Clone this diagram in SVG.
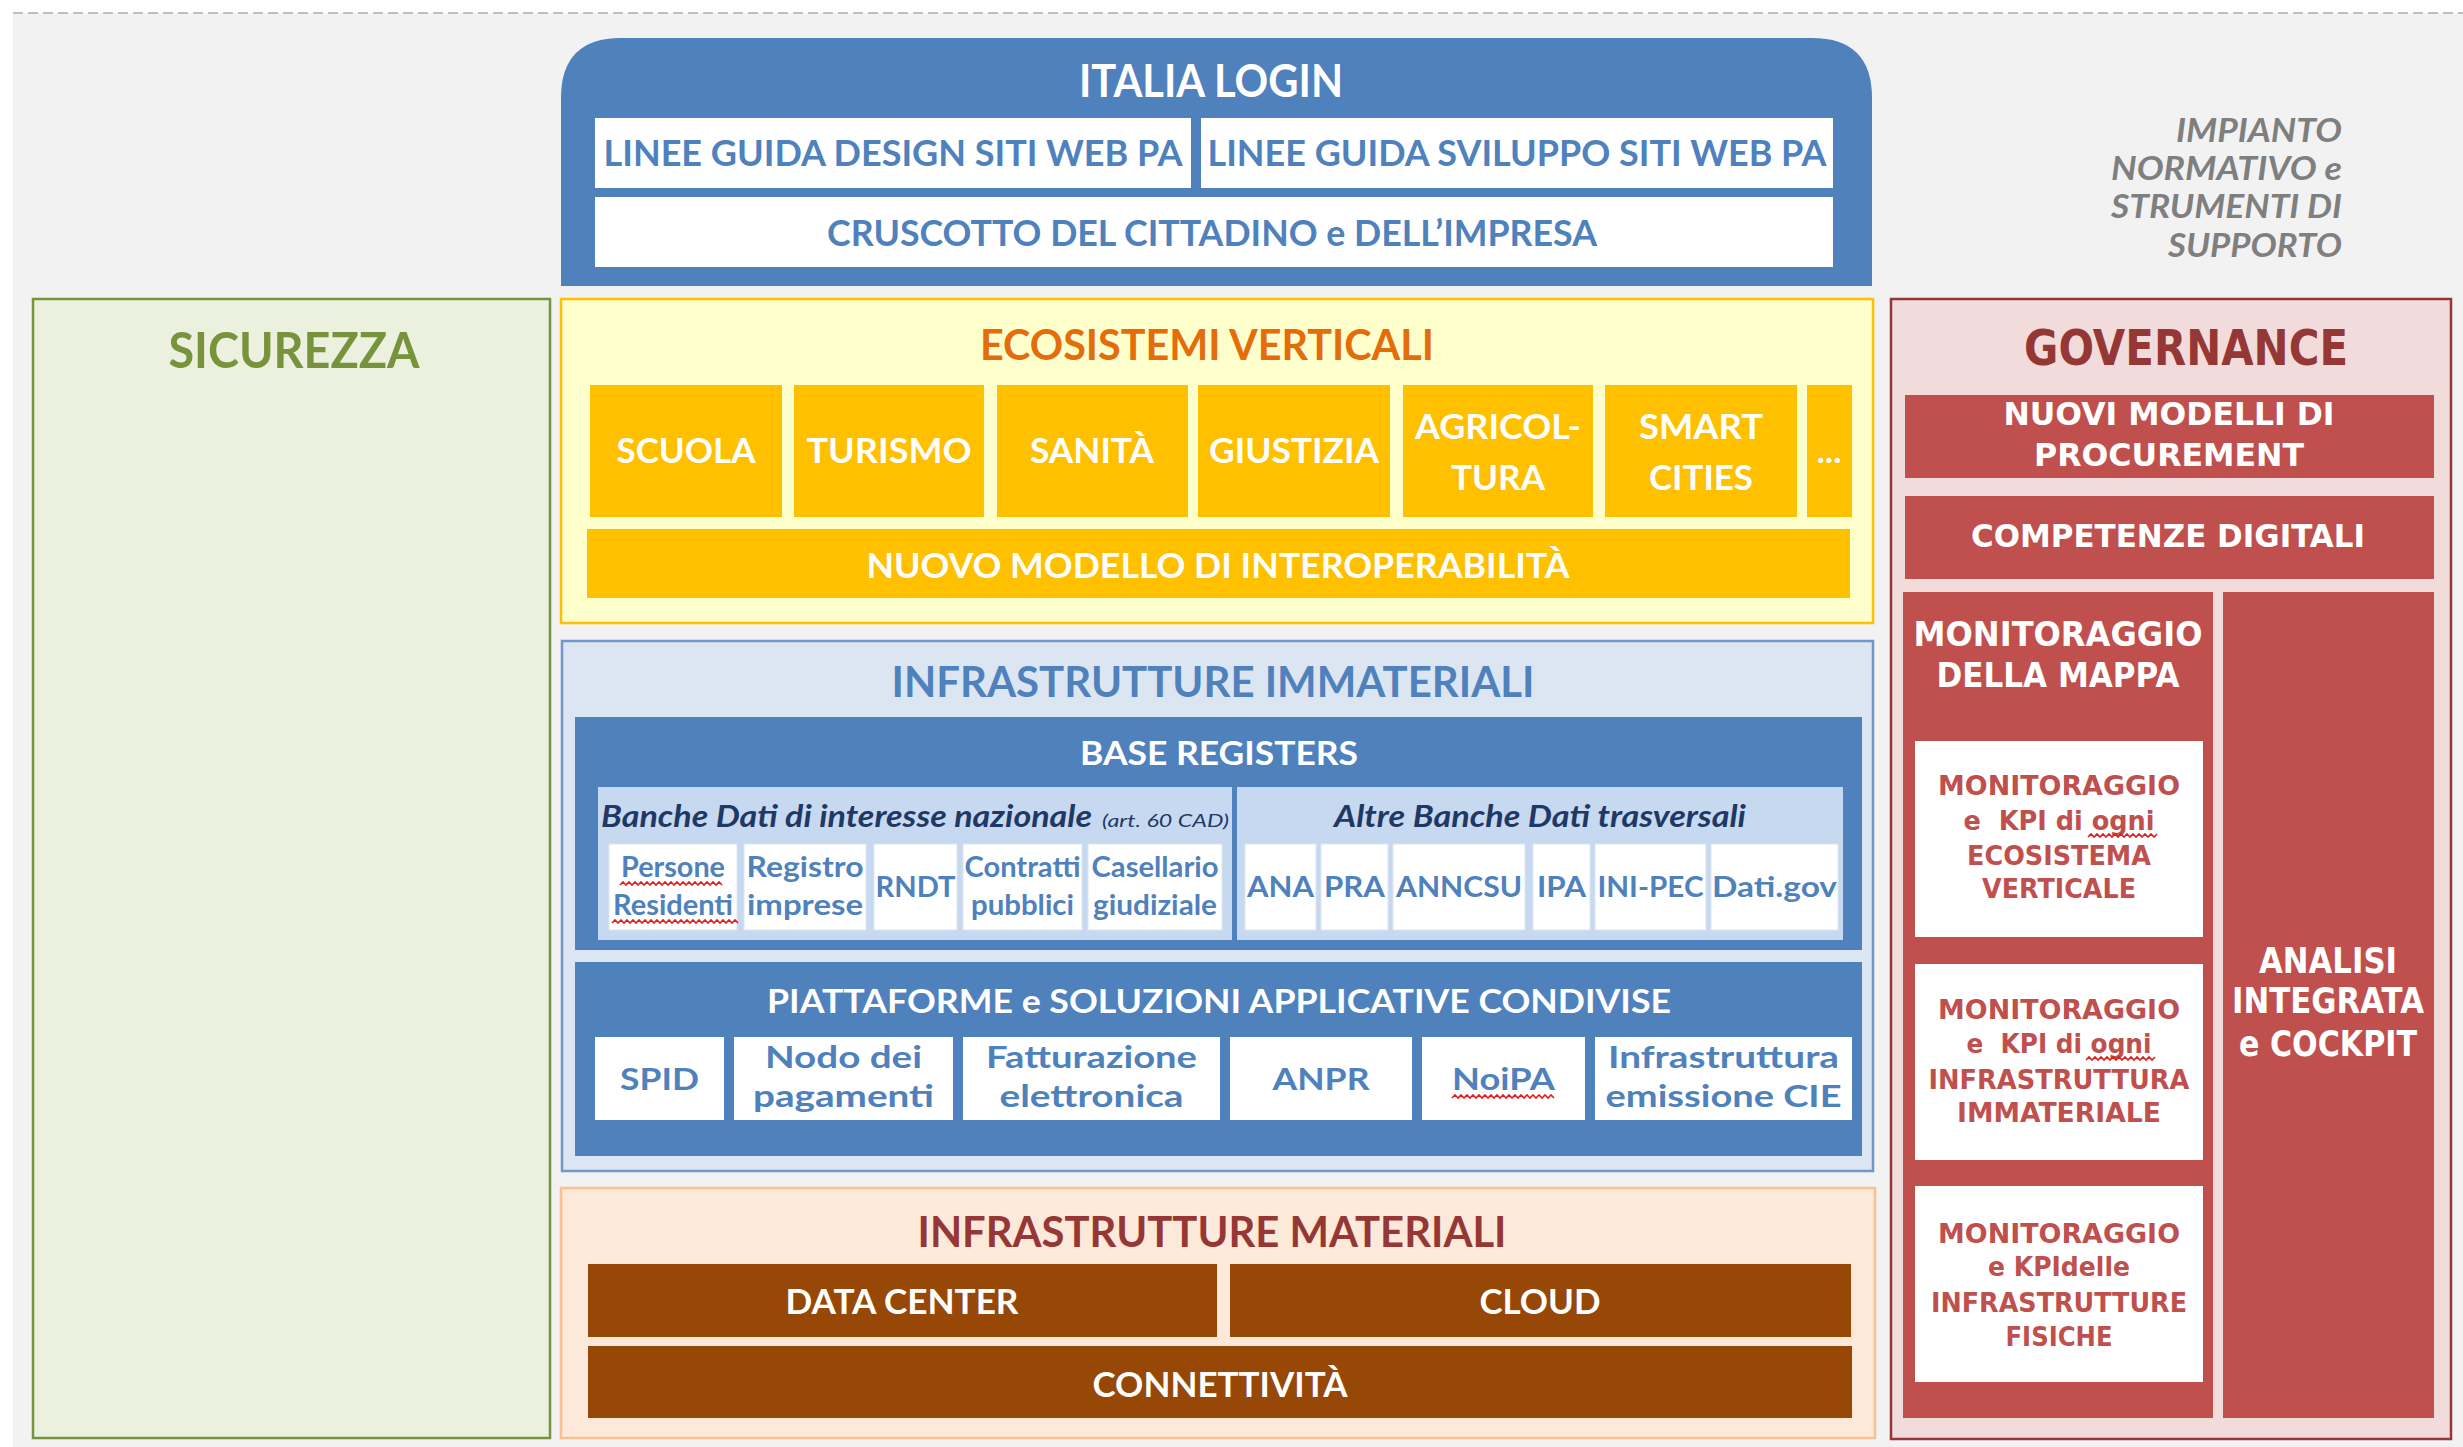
<svg xmlns="http://www.w3.org/2000/svg" width="2463" height="1447" viewBox="0 0 2463 1447">
<style>
text{font-family:Lato,"Open Sans","Liberation Sans",sans-serif;font-weight:bold;text-anchor:middle}
.w{fill:#ffffff}
.blue{fill:#4f81bd}
.gov{font-family:"DejaVu Sans","Liberation Sans",sans-serif}
.red{fill:#c0504d}
.dk{fill:#1f3864;font-style:italic}
.wbox{fill:#ffffff}
.eco{fill:#ffc000}
.brown{fill:#974706}
.redbox{fill:#c0504d}
.cell{fill:#ffffff;stroke:#dbe5f1;stroke-width:1}
.wave{fill:none;stroke:#e02020;stroke-width:1.6}
</style>
<rect x="13" y="13" width="2450" height="1434" fill="#f2f2f2"/>
<line x1="13" y1="13" x2="2463" y2="13" stroke="#bfbfbf" stroke-width="2" stroke-dasharray="10 5"/>

<g id="impianto">
<text x="2342" y="142" font-size="32" fill="#7f7f7f" font-style="italic" style="text-anchor:end" textLength="166" lengthAdjust="spacingAndGlyphs">IMPIANTO</text>
<text x="2342" y="180" font-size="32" fill="#7f7f7f" font-style="italic" style="text-anchor:end" textLength="231" lengthAdjust="spacingAndGlyphs">NORMATIVO e</text>
<text x="2342" y="218" font-size="32" fill="#7f7f7f" font-style="italic" style="text-anchor:end" textLength="231" lengthAdjust="spacingAndGlyphs">STRUMENTI DI</text>
<text x="2342" y="257" font-size="32" fill="#7f7f7f" font-style="italic" style="text-anchor:end" textLength="174" lengthAdjust="spacingAndGlyphs">SUPPORTO</text>
</g>

<g id="italia-login">
<path d="M561,286 V98 Q561,38 621,38 H1812 Q1872,38 1872,98 V286 Z" fill="#4f81bd"/>
<text class="w" x="1211" y="97" font-size="45" textLength="264" lengthAdjust="spacingAndGlyphs">ITALIA LOGIN</text>
<rect class="wbox" x="595" y="118" width="596" height="70"/>
<text class="blue" x="893" y="166" font-size="36" textLength="579" lengthAdjust="spacingAndGlyphs">LINEE GUIDA DESIGN SITI WEB PA</text>
<rect class="wbox" x="1201" y="118" width="632" height="70"/>
<text class="blue" x="1517" y="166" font-size="36" textLength="619" lengthAdjust="spacingAndGlyphs">LINEE GUIDA SVILUPPO SITI WEB PA</text>
<rect class="wbox" x="595" y="197" width="1238" height="70"/>
<text class="blue" x="1212" y="246" font-size="36" textLength="770" lengthAdjust="spacingAndGlyphs">CRUSCOTTO DEL CITTADINO e DELL’IMPRESA</text>
</g>

<g id="sicurezza">
<rect x="33" y="299" width="517" height="1139" fill="#ebf1de" stroke="#77933c" stroke-width="2.5"/>
<text x="294" y="368" font-size="50" fill="#77933c" textLength="251" lengthAdjust="spacingAndGlyphs">SICUREZZA</text>
</g>

<g id="ecosistemi">
<rect x="561" y="299" width="1312" height="324" fill="#ffffcc" stroke="#ffc000" stroke-width="2.5"/>
<text x="1207" y="360" font-size="42" fill="#e46c0a" textLength="454" lengthAdjust="spacingAndGlyphs">ECOSISTEMI VERTICALI</text>
<rect class="eco" x="590" y="385" width="192" height="132"/>
<text class="w" x="686" y="463" font-size="35" textLength="139" lengthAdjust="spacingAndGlyphs">SCUOLA</text>
<rect class="eco" x="794" y="385" width="190" height="132"/>
<text class="w" x="889" y="463" font-size="35" textLength="165" lengthAdjust="spacingAndGlyphs">TURISMO</text>
<rect class="eco" x="997" y="385" width="191" height="132"/>
<text class="w" x="1092" y="463" font-size="35" textLength="124" lengthAdjust="spacingAndGlyphs">SANITÀ</text>
<rect class="eco" x="1198" y="385" width="192" height="132"/>
<text class="w" x="1294" y="463" font-size="35" textLength="170" lengthAdjust="spacingAndGlyphs">GIUSTIZIA</text>
<rect class="eco" x="1403" y="385" width="190" height="132"/>
<text class="w" x="1498" y="439" font-size="35" textLength="166" lengthAdjust="spacingAndGlyphs">AGRICOL-</text>
<text class="w" x="1498" y="490" font-size="35" textLength="94" lengthAdjust="spacingAndGlyphs">TURA</text>
<rect class="eco" x="1605" y="385" width="192" height="132"/>
<text class="w" x="1701" y="439" font-size="35" textLength="124" lengthAdjust="spacingAndGlyphs">SMART</text>
<text class="w" x="1701" y="490" font-size="35" textLength="104" lengthAdjust="spacingAndGlyphs">CITIES</text>
<rect class="eco" x="1807" y="385" width="45" height="132"/>
<text class="w" x="1829" y="463" font-size="35">...</text>
<rect class="eco" x="587" y="529" width="1263" height="69"/>
<text class="w" x="1218" y="578" font-size="35" textLength="703" lengthAdjust="spacingAndGlyphs">NUOVO MODELLO DI INTEROPERABILITÀ</text>
</g>

<g id="infrastrutture-immateriali">
<rect x="562" y="641" width="1311" height="530" fill="#dce6f2" stroke="#6f97cc" stroke-width="2.5"/>
<text class="blue" x="1213" y="697" font-size="42" textLength="643" lengthAdjust="spacingAndGlyphs">INFRASTRUTTURE IMMATERIALI</text>
</g>

<g id="base-registers">
<rect x="575" y="717" width="1287" height="233" fill="#4f81bd"/>
<text class="w" x="1219" y="765" font-size="32" textLength="278" lengthAdjust="spacingAndGlyphs">BASE REGISTERS</text>
<rect x="598" y="787" width="634" height="153" fill="#c6d9f1"/>
<rect x="1237" y="787" width="606" height="153" fill="#c6d9f1"/>
<text class="dk" x="601" y="827" font-size="30" style="text-anchor:start" textLength="491" lengthAdjust="spacingAndGlyphs">Banche Dati di interesse nazionale</text>
<text class="dk" x="1102" y="827" font-size="17" style="text-anchor:start;font-weight:normal" textLength="127" lengthAdjust="spacingAndGlyphs">(art. 60 CAD)</text>
<text class="dk" x="1540" y="827" font-size="30" textLength="412" lengthAdjust="spacingAndGlyphs">Altre Banche Dati trasversali</text>
</g>

<g id="banche-nazionali">
<rect class="cell" x="609" y="844" width="128" height="86"/>
<text class="blue" x="673" y="877" font-size="28" textLength="104" lengthAdjust="spacingAndGlyphs">Persone</text>
<text class="blue" x="673" y="915" font-size="28" textLength="120" lengthAdjust="spacingAndGlyphs">Residenti</text>
<rect class="cell" x="744" y="844" width="122" height="86"/>
<text class="blue" x="805" y="877" font-size="28" textLength="117" lengthAdjust="spacingAndGlyphs">Registro</text>
<text class="blue" x="805" y="915" font-size="28" textLength="116" lengthAdjust="spacingAndGlyphs">imprese</text>
<rect class="cell" x="874" y="844" width="83" height="86"/>
<text class="blue" x="915.5" y="897" font-size="28" textLength="80" lengthAdjust="spacingAndGlyphs">RNDT</text>
<rect class="cell" x="963" y="844" width="119" height="86"/>
<text class="blue" x="1022.5" y="877" font-size="28" textLength="116" lengthAdjust="spacingAndGlyphs">Contratti</text>
<text class="blue" x="1022.5" y="915" font-size="28" textLength="103" lengthAdjust="spacingAndGlyphs">pubblici</text>
<rect class="cell" x="1088" y="844" width="134" height="86"/>
<text class="blue" x="1155" y="877" font-size="28" textLength="127" lengthAdjust="spacingAndGlyphs">Casellario</text>
<text class="blue" x="1155" y="915" font-size="28" textLength="124" lengthAdjust="spacingAndGlyphs">giudiziale</text>
</g>

<g id="banche-trasversali">
<rect class="cell" x="1245" y="844" width="71" height="86"/>
<text class="blue" x="1280.5" y="897" font-size="28" textLength="67" lengthAdjust="spacingAndGlyphs">ANA</text>
<rect class="cell" x="1321" y="844" width="67" height="86"/>
<text class="blue" x="1354.5" y="897" font-size="28" textLength="61" lengthAdjust="spacingAndGlyphs">PRA</text>
<rect class="cell" x="1393" y="844" width="132" height="86"/>
<text class="blue" x="1459" y="897" font-size="28" textLength="126" lengthAdjust="spacingAndGlyphs">ANNCSU</text>
<rect class="cell" x="1533" y="844" width="57" height="86"/>
<text class="blue" x="1561.5" y="897" font-size="28" textLength="49" lengthAdjust="spacingAndGlyphs">IPA</text>
<rect class="cell" x="1595" y="844" width="111" height="86"/>
<text class="blue" x="1650.5" y="897" font-size="28" textLength="106" lengthAdjust="spacingAndGlyphs">INI-PEC</text>
<rect class="cell" x="1711" y="844" width="127" height="86"/>
<text class="blue" x="1774.5" y="897" font-size="28" textLength="125" lengthAdjust="spacingAndGlyphs">Dati.gov</text>
</g>

<g id="piattaforme">
<rect x="575" y="962" width="1287" height="194" fill="#4f81bd"/>
<text class="w" x="1219" y="1013" font-size="32" textLength="904" lengthAdjust="spacingAndGlyphs">PIATTAFORME e SOLUZIONI APPLICATIVE CONDIVISE</text>
<rect class="wbox" x="595" y="1037" width="129" height="83"/>
<text class="blue" x="659.5" y="1090" font-size="30" textLength="79" lengthAdjust="spacingAndGlyphs">SPID</text>
<rect class="wbox" x="734" y="1037" width="219" height="83"/>
<text class="blue" x="843.5" y="1068" font-size="30" textLength="157" lengthAdjust="spacingAndGlyphs">Nodo dei</text>
<text class="blue" x="843.5" y="1107" font-size="30" textLength="181" lengthAdjust="spacingAndGlyphs">pagamenti</text>
<rect class="wbox" x="963" y="1037" width="257" height="83"/>
<text class="blue" x="1091.5" y="1068" font-size="30" textLength="211" lengthAdjust="spacingAndGlyphs">Fatturazione</text>
<text class="blue" x="1091.5" y="1107" font-size="30" textLength="184" lengthAdjust="spacingAndGlyphs">elettronica</text>
<rect class="wbox" x="1230" y="1037" width="182" height="83"/>
<text class="blue" x="1321" y="1090" font-size="30" textLength="97" lengthAdjust="spacingAndGlyphs">ANPR</text>
<rect class="wbox" x="1422" y="1037" width="163" height="83"/>
<text class="blue" x="1503.5" y="1090" font-size="30" textLength="103" lengthAdjust="spacingAndGlyphs">NoiPA</text>
<rect class="wbox" x="1595" y="1037" width="257" height="83"/>
<text class="blue" x="1723.5" y="1068" font-size="30" textLength="231" lengthAdjust="spacingAndGlyphs">Infrastruttura</text>
<text class="blue" x="1723.5" y="1107" font-size="30" textLength="236" lengthAdjust="spacingAndGlyphs">emissione CIE</text>
</g>

<g id="infrastrutture-materiali">
<rect x="561" y="1188" width="1314" height="250" fill="#fde9d9" stroke="#fac090" stroke-width="2.5"/>
<text x="1212" y="1247" font-size="42" fill="#953735" textLength="589" lengthAdjust="spacingAndGlyphs">INFRASTRUTTURE MATERIALI</text>
<rect class="brown" x="588" y="1264" width="629" height="73"/>
<text class="w" x="902" y="1314" font-size="35" textLength="233" lengthAdjust="spacingAndGlyphs">DATA CENTER</text>
<rect class="brown" x="1230" y="1264" width="621" height="73"/>
<text class="w" x="1540" y="1314" font-size="35" textLength="121" lengthAdjust="spacingAndGlyphs">CLOUD</text>
<rect class="brown" x="588" y="1346" width="1264" height="72"/>
<text class="w" x="1220" y="1397" font-size="35" textLength="255" lengthAdjust="spacingAndGlyphs">CONNETTIVITÀ</text>
</g>

<g id="governance">
<rect x="1891" y="299" width="560" height="1140" fill="#f2dcdb" stroke="#953735" stroke-width="2.5"/>
<text x="2186" y="365" font-size="49" fill="#953735" class="gov" textLength="324" lengthAdjust="spacingAndGlyphs">GOVERNANCE</text>
<rect class="redbox" x="1905" y="395" width="529" height="83"/>
<text class="w gov" x="2169" y="425" font-size="32" textLength="331" lengthAdjust="spacingAndGlyphs">NUOVI MODELLI DI</text>
<text class="w gov" x="2169" y="466" font-size="32" textLength="270" lengthAdjust="spacingAndGlyphs">PROCUREMENT</text>
<rect class="redbox" x="1905" y="496" width="529" height="83"/>
<text class="w gov" x="2168" y="547" font-size="32" textLength="394" lengthAdjust="spacingAndGlyphs">COMPETENZE DIGITALI</text>
</g>

<g id="monitoraggio-mappa">
<rect class="redbox" x="1903" y="592" width="310" height="826"/>
<text class="w gov" x="2058" y="646" font-size="33" textLength="289" lengthAdjust="spacingAndGlyphs">MONITORAGGIO</text>
<text class="w gov" x="2058" y="687" font-size="33" textLength="243" lengthAdjust="spacingAndGlyphs">DELLA MAPPA</text>
<rect class="wbox" x="1915" y="741" width="288" height="196"/>
<text class="red gov" x="2059" y="795" font-size="27" textLength="242" lengthAdjust="spacingAndGlyphs">MONITORAGGIO</text>
<text class="red gov" x="2059" y="830" font-size="27" xml:space="preserve" textLength="191" lengthAdjust="spacingAndGlyphs">e  KPI di ogni</text>
<text class="red gov" x="2059" y="865" font-size="27" textLength="184" lengthAdjust="spacingAndGlyphs">ECOSISTEMA</text>
<text class="red gov" x="2059" y="898" font-size="27" textLength="154" lengthAdjust="spacingAndGlyphs">VERTICALE</text>
<rect class="wbox" x="1915" y="964" width="288" height="196"/>
<text class="red gov" x="2059" y="1019" font-size="27" textLength="242" lengthAdjust="spacingAndGlyphs">MONITORAGGIO</text>
<text class="red gov" x="2059" y="1053" font-size="27" xml:space="preserve" textLength="185" lengthAdjust="spacingAndGlyphs">e  KPI di ogni</text>
<text class="red gov" x="2059" y="1089" font-size="27" textLength="261" lengthAdjust="spacingAndGlyphs">INFRASTRUTTURA</text>
<text class="red gov" x="2059" y="1122" font-size="27" textLength="204" lengthAdjust="spacingAndGlyphs">IMMATERIALE</text>
<rect class="wbox" x="1915" y="1186" width="288" height="196"/>
<text class="red gov" x="2059" y="1243" font-size="27" textLength="242" lengthAdjust="spacingAndGlyphs">MONITORAGGIO</text>
<text class="red gov" x="2059" y="1276" font-size="27" textLength="142" lengthAdjust="spacingAndGlyphs">e KPIdelle</text>
<text class="red gov" x="2059" y="1312" font-size="27" textLength="256" lengthAdjust="spacingAndGlyphs">INFRASTRUTTURE</text>
<text class="red gov" x="2059" y="1346" font-size="27" textLength="107" lengthAdjust="spacingAndGlyphs">FISICHE</text>
</g>

<g id="analisi">
<rect class="redbox" x="2223" y="592" width="211" height="826"/>
<text class="w gov" x="2328" y="973" font-size="35" textLength="138" lengthAdjust="spacingAndGlyphs">ANALISI</text>
<text class="w gov" x="2328" y="1013" font-size="35" textLength="192" lengthAdjust="spacingAndGlyphs">INTEGRATA</text>
<text class="w gov" x="2328" y="1056" font-size="35" textLength="178" lengthAdjust="spacingAndGlyphs">e COCKPIT</text>
</g>

<g id="spellcheck-underlines">
<path class="wave" d="M620,885 l3,-3 l3,3 l3,-3 l3,3 l3,-3 l3,3 l3,-3 l3,3 l3,-3 l3,3 l3,-3 l3,3 l3,-3 l3,3 l3,-3 l3,3 l3,-3 l3,3 l3,-3 l3,3 l3,-3 l3,3 l3,-3 l3,3 l3,-3 l3,3 l3,-3 l3,3 l3,-3 l3,3 l3,-3 l3,3 l3,-3 l3,3"/>
<path class="wave" d="M612,923 l3,-3 l3,3 l3,-3 l3,3 l3,-3 l3,3 l3,-3 l3,3 l3,-3 l3,3 l3,-3 l3,3 l3,-3 l3,3 l3,-3 l3,3 l3,-3 l3,3 l3,-3 l3,3 l3,-3 l3,3 l3,-3 l3,3 l3,-3 l3,3 l3,-3 l3,3 l3,-3 l3,3 l3,-3 l3,3 l3,-3 l3,3 l3,-3 l3,3 l3,-3 l3,3 l3,-3 l3,3 l3,-3 l3,3"/>
<path class="wave" d="M1452,1098 l3,-3 l3,3 l3,-3 l3,3 l3,-3 l3,3 l3,-3 l3,3 l3,-3 l3,3 l3,-3 l3,3 l3,-3 l3,3 l3,-3 l3,3 l3,-3 l3,3 l3,-3 l3,3 l3,-3 l3,3 l3,-3 l3,3 l3,-3 l3,3 l3,-3 l3,3 l3,-3 l3,3 l3,-3 l3,3 l3,-3 l3,3"/>
<path class="wave" d="M2088,837 l3,-3 l3,3 l3,-3 l3,3 l3,-3 l3,3 l3,-3 l3,3 l3,-3 l3,3 l3,-3 l3,3 l3,-3 l3,3 l3,-3 l3,3 l3,-3 l3,3 l3,-3 l3,3 l3,-3 l3,3 l3,-3"/>
<path class="wave" d="M2086,1060 l3,-3 l3,3 l3,-3 l3,3 l3,-3 l3,3 l3,-3 l3,3 l3,-3 l3,3 l3,-3 l3,3 l3,-3 l3,3 l3,-3 l3,3 l3,-3 l3,3 l3,-3 l3,3 l3,-3 l3,3 l3,-3"/>
</g>
<g id="connectors"/>
</svg>
